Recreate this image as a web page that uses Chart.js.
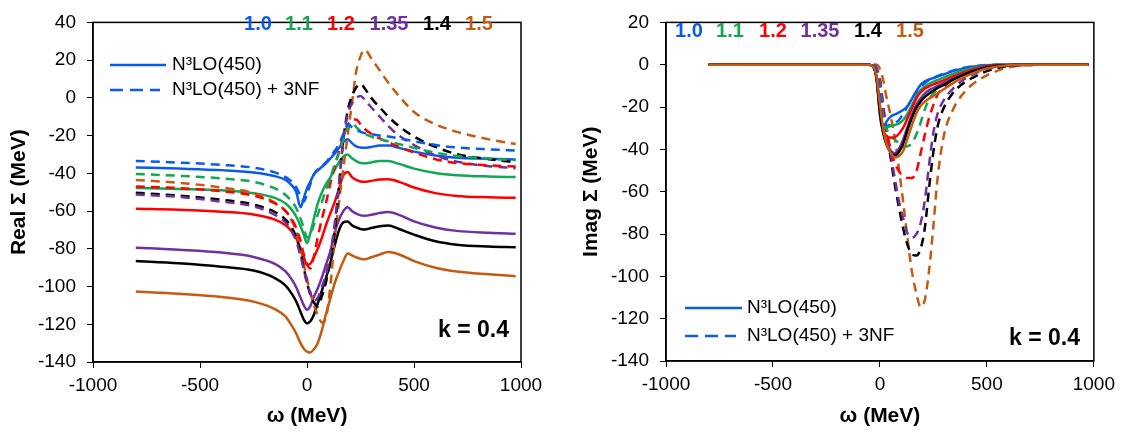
<!DOCTYPE html>
<html>
<head>
<meta charset="utf-8">
<script src="https://cdn.jsdelivr.net/npm/chart.js@4.4.0/dist/chart.umd.min.js"></script>
<style>
  body { margin: 0; background: #fff; }
  .panel { position: absolute; top: 0; }
  #leftPanel { left: 0; }
  #rightPanel { left: 560px; }
</style>
</head>
<body>
<div class="panel" id="leftPanel"><canvas id="realChart" width="560" height="435"></canvas></div>
<div class="panel" id="rightPanel"><canvas id="imagChart" width="561" height="435"></canvas></div>
<script>
// omega grid (MeV)
const omega = [-800, -600, -400, -250, -150, -100, -70, -50, -30, -15, 0, 15, 30, 50, 70, 90, 110, 130, 150, 170, 190, 210, 230, 250, 270, 300, 340, 380, 430, 500, 600, 700, 850, 975];

const kLabels = ['1.0', '1.1', '1.2', '1.35', '1.4', '1.5'];
const kColors = ['#0a5ce8', '#10a852', '#ff0000', '#7030a0', '#000000', '#c55a11'];
const legendLabels = ['N\u00b3LO(450)', 'N\u00b3LO(450) + 3NF'];

// Real part, N3LO(450)
const re10 = [-36.9, -37.5, -38.3, -39.5, -41.5, -43.5, -46.5, -50, -58, -53, -48, -44.5, -41, -38.5, -36.5, -34.5, -32, -29.5, -26.5, -23.5, -22, -24, -25.7, -26.3, -26.5, -26, -25.3, -25.3, -26.5, -28.5, -30.5, -31.7, -32.3, -32.7];
const re11 = [-47.8, -48.3, -49, -50.5, -53, -56, -59.5, -63, -68, -72.5, -77, -72, -65, -56, -50, -45.5, -42, -38, -34, -31, -30, -32, -33.5, -34.5, -34.7, -34.2, -33.5, -33.5, -35, -37.5, -39.8, -41, -41.7, -42];
const re12 = [-58.8, -59.3, -60.3, -61.8, -64.5, -67.5, -71, -74.5, -80, -84.5, -88.5, -88, -85, -80, -74, -67, -61, -55, -48, -41, -39.3, -42, -43.5, -44.3, -44.5, -44, -43.3, -43.2, -44.5, -47.5, -50.5, -52, -52.7, -53];
const re135 = [-79.4, -80.5, -82, -84.3, -88, -92, -96.5, -100.5, -106, -110, -112.3, -110.5, -106, -101, -95, -88, -81, -71, -64.5, -60, -58, -60, -61.4, -62.3, -62.5, -62, -61, -60.5, -62, -65.5, -68.7, -70.5, -71.5, -72];
const re14 = [-86.5, -87.7, -89.5, -91.5, -95.5, -99.5, -104, -108, -113.5, -117.5, -119.5, -118.5, -115.5, -109, -102, -95, -87, -78, -70, -66, -65.5, -67.5, -68.7, -69.5, -69.8, -69, -68, -67.6, -69.5, -72.5, -76, -77.8, -78.8, -79.2];
const re15 = [-102.6, -103.8, -105.5, -108, -112, -116, -121, -125, -130, -133, -134.5, -135, -133.5, -130, -123, -114, -106, -98, -92, -86.5, -82.5, -83.5, -84.5, -85.3, -85.6, -84.5, -83, -81.7, -83, -86.5, -90, -92, -93.5, -94.5];

// Real part, N3LO(450) + 3NF
const re10nf = [-33.5, -34.3, -35.5, -37, -39.5, -42, -44.5, -47.5, -52, -55, -51, -46, -41, -38, -36, -34, -31, -28, -24.5, -19, -14, -15.5, -17, -18, -18.7, -19.2, -20, -20.5, -21.5, -23, -25, -26.3, -27.3, -27.9];
const re11nf = [-40.3, -41.3, -42.7, -44.5, -48, -51.5, -55, -58.5, -64, -69, -74, -73, -68, -62, -55, -48.5, -42, -35, -29, -22, -16, -13, -15.5, -17.5, -19, -20.5, -22, -23, -24.5, -26.5, -29, -30.8, -32.2, -33];
const re12nf = [-47, -47.8, -49.5, -51.8, -56, -60, -64.5, -69, -76, -83, -88, -90.5, -85, -74, -64, -55, -45, -36.5, -28, -20.5, -15, -11.5, -11.5, -14, -16.5, -19, -21.5, -23.5, -26, -29, -32.5, -34.5, -35.8, -36.4];
const re135nf = [-51.2, -52.5, -55, -57.5, -62, -66, -71, -76, -84, -91, -98, -103, -107.5, -106, -100, -93, -82, -66, -45, -22, -9, -3, 0, 1, -1, -5, -10, -15, -20, -25, -30.5, -33.8, -36.2, -37.3];
const re14nf = [-50.3, -51.8, -54, -56.5, -60.5, -64.5, -69, -74, -82, -90, -98, -104, -108, -110.5, -105, -97, -86, -70, -46, -22, -7, 1, 5.5, 7.4, 5, 0, -5, -10, -15, -20.5, -26, -29.8, -32.5, -34.2];
const re15nf = [-43.5, -45, -47.5, -50.5, -55.5, -60, -65.5, -71, -80, -88, -96, -103, -109, -115, -119, -116, -99, -74, -55, -37, -20, -3, 14, 22, 25.5, 21, 14.5, 8, 1, -7.5, -14, -18, -22, -24.5];

// Imaginary part, N3LO(450)
const im10 = [0, 0, 0, 0, 0, 0, 0, 0, -1, -7, -24, -31, -27, -24.5, -23.5, -22.5, -21.3, -19.5, -16, -12.5, -9.5, -7.8, -7, -6.3, -5.6, -4.5, -3, -2, -0.9, -0.2, 0, 0, 0, 0];
const im11 = [0, 0, 0, 0, 0, 0, 0, 0, -1, -7, -22, -29.5, -29.5, -29, -28.5, -27.7, -26, -23, -19, -15, -12, -10.2, -9, -8, -7.2, -6, -4.3, -3, -1.7, -0.5, 0, 0, 0, 0];
const im12 = [0, 0, 0, 0, 0, 0, 0, 0, -1, -7, -23, -31, -33.5, -34.5, -34.2, -32.5, -29.5, -25, -20.5, -16, -13, -11.3, -10.2, -9.3, -8.5, -7.3, -5.5, -4, -2.3, -0.6, -0.1, 0, 0, 0];
const im135 = [0, 0, 0, 0, 0, 0, 0, 0, -1, -7, -22, -32, -37, -40.5, -41.8, -39.5, -35, -29, -23.5, -19, -16, -13.5, -12, -11, -10, -8.5, -6.5, -4.8, -3, -1, -0.1, 0, 0, 0];
const im14 = [0, 0, 0, 0, 0, 0, 0, 0, -1, -7, -22, -32, -37.5, -41.5, -42.8, -41, -37, -30.5, -25, -20.5, -17.5, -15.2, -13.6, -12.3, -11, -9.5, -7.2, -5.3, -3.3, -1.2, -0.2, 0, 0, 0];
const im15 = [0, 0, 0, 0, 0, 0, 0, 0, -1, -6, -19, -30, -37, -41.5, -43.8, -43, -40.5, -34.5, -28.5, -23, -19.5, -17.5, -16, -14.8, -13.5, -11.5, -8.8, -6.5, -4.2, -1.8, -0.3, 0, 0, 0];

// Imaginary part, N3LO(450) + 3NF
const im10nf = [0, 0, 0, 0, 0, 0, 0, 0, 0, -3, -12, -28, -29, -28.3, -27.5, -26, -23, -19.5, -16, -13, -10.5, -8.7, -7.3, -6.3, -5.3, -4.2, -2.8, -1.7, -0.8, -0.1, 0, 0, 0, 0];
const im11nf = [0, 0, 0, 0, 0, 0, 0, 0, 0, -3, -10, -26, -30, -33.5, -35.5, -37, -38.8, -38.5, -37, -33, -27.5, -21, -16.5, -13.5, -11.3, -9, -6.3, -4.3, -2.3, -0.5, 0, 0, 0, 0];
const im12nf = [0, 0, 0, 0, 0, 0, 0, 0, 0, -2, -8, -23, -31, -40, -46.5, -50.5, -52.6, -53.5, -53.5, -50.5, -42, -33, -25, -19, -14, -10.5, -7, -5, -3, -1.1, -0.2, 0, 0, 0];
const im135nf = [0, 0, 0, 0, 0, 0, 0, 0, 0, -2, -7, -19, -30, -42, -54, -65, -73, -80, -81.7, -80, -75, -64, -47, -32, -23, -16.5, -11.5, -7.8, -4.8, -2, -0.3, 0, 0, 0];
const im14nf = [0, 0, 0, 0, 0, 0, 0, 0, 0, -2, -7, -20, -31, -44, -57, -68, -78, -85.5, -89.5, -90.2, -87, -77, -58, -41, -29, -20, -13.5, -9.5, -6.3, -3, -0.6, -0.1, 0, 0];
const im15nf = [0, 0, 0, 0, 0, 0, 0, 0, 0, 0, -2, -7, -15, -24, -35, -50, -66, -83, -98, -108, -114.5, -111, -97, -76, -53, -33, -21.5, -14.8, -9.5, -5, -1.3, -0.1, 0, 0];

const FONT = '"Liberation Sans", Arial, sans-serif';
const DASH = [9, 6];

// solidOnTop: solid curves drawn over the dashed ones, 1.5 uppermost
function makeSets(solid, dashed, solidOnTop) {
  const sets = [];
  dashed.forEach((arr, i) => {
    sets.push({
      label: legendLabels[1] + ' ' + kLabels[i],
      data: omega.map((x, j) => ({ x: x, y: arr[j] })),
      borderColor: kColors[i], borderWidth: 2.5, borderDash: DASH,
      pointRadius: 0, cubicInterpolationMode: 'monotone', fill: false,
      order: solidOnTop ? 6 + i : i
    });
  });
  solid.forEach((arr, i) => {
    sets.push({
      label: legendLabels[0] + ' ' + kLabels[i],
      data: omega.map((x, j) => ({ x: x, y: arr[j] })),
      borderColor: kColors[i], borderWidth: 2.5,
      pointRadius: 0, cubicInterpolationMode: 'monotone', fill: false,
      order: solidOnTop ? 5 - i : 6 + i
    });
  });
  return sets;
}

// frame, k labels, legend and k = 0.4 note
const panelText = {
  id: 'panelText',
  afterDraw(chart, args, opts) {
    const ctx = chart.ctx, a = chart.chartArea;
    ctx.save();
    ctx.strokeStyle = '#000';
    ctx.lineWidth = 1.5;
    ctx.strokeRect(a.left, a.top, a.right - a.left, a.bottom - a.top);

    ctx.textBaseline = 'middle';
    ctx.textAlign = 'center';
    ctx.font = 'bold 20px ' + FONT;
    opts.kx.forEach((x, i) => {
      ctx.fillStyle = kColors[i];
      ctx.fillText(kLabels[i], x, opts.ky);
    });

    // legend
    ctx.strokeStyle = kColors[0];
    ctx.lineWidth = 2.5;
    ctx.beginPath();
    ctx.moveTo(opts.lx0, opts.ly[0]); ctx.lineTo(opts.lx1, opts.ly[0]);
    ctx.stroke();
    ctx.setLineDash([13, 7]);
    ctx.beginPath();
    ctx.moveTo(opts.lx0, opts.ly[1]); ctx.lineTo(opts.lx1 - 6, opts.ly[1]);
    ctx.stroke();
    ctx.setLineDash([]);
    ctx.fillStyle = '#000';
    ctx.textAlign = 'left';
    ctx.font = '19px ' + FONT;
    ctx.fillText(legendLabels[0], opts.tx, opts.ly[0]);
    ctx.fillText(legendLabels[1], opts.tx, opts.ly[1]);

    ctx.font = 'bold 23px ' + FONT;
    ctx.textAlign = 'right';
    ctx.fillText('k = 0.4', opts.kNoteX, opts.kNoteY);
    ctx.restore();
  }
};

function makeOptions(yMin, yMax, yTitle, pad, yWidth, xHeight, yTitlePad, textOpts) {
  return {
    responsive: false,
    animation: false,
    devicePixelRatio: 1,
    layout: { padding: pad },
    plugins: {
      legend: { display: false },
      tooltip: { enabled: false },
      panelText: textOpts
    },
    scales: {
      x: {
        type: 'linear', min: -1000, max: 1000,
        afterFit: s => { s.height = xHeight; },
        ticks: { stepSize: 500, padding: 6, color: '#000', font: { family: FONT, size: 19 }, callback: v => String(v) },
        grid: { drawOnChartArea: false, drawTicks: true, tickLength: 6, color: '#000' },
        border: { color: '#000', width: 1.5 },
        title: { display: true, text: '\u03c9 (MeV)', color: '#000', padding: { top: 0, bottom: 6 }, font: { family: FONT, size: 21, weight: 'bold' } }
      },
      y: {
        min: yMin, max: yMax,
        afterFit: s => { s.width = yWidth; },
        ticks: { stepSize: 20, padding: 11, color: '#000', font: { family: FONT, size: 19 }, callback: v => String(v) },
        grid: { drawOnChartArea: false, drawTicks: true, tickLength: 6, color: '#000' },
        border: { color: '#000', width: 1.5 },
        title: { display: true, text: yTitle, color: '#000', padding: { top: yTitlePad, bottom: 0 }, font: { family: FONT, size: 21, weight: 'bold' } }
      }
    }
  };
}

new Chart(document.getElementById('realChart').getContext('2d'), {
  type: 'line',
  data: { datasets: makeSets([re10, re11, re12, re135, re14, re15], [re10nf, re11nf, re12nf, re135nf, re14nf, re15nf], false) },
  options: makeOptions(-140, 40, 'Real \u03a3 (MeV)', { left: 0, right: 39, top: 9, bottom: 0 }, 93, 73, 7, {
    kx: [258, 299, 341, 389, 437, 479], ky: 24,
    lx0: 110, lx1: 166, ly: [65, 90], tx: 172,
    kNoteX: 509, kNoteY: 331
  }),
  plugins: [panelText]
});

new Chart(document.getElementById('imagChart').getContext('2d'), {
  type: 'line',
  data: { datasets: makeSets([im10, im11, im12, im135, im14, im15], [im10nf, im11nf, im12nf, im135nf, im14nf, im15nf], true) },
  options: makeOptions(-140, 20, 'Imag \u03a3 (MeV)', { left: 16, right: 26, top: 12, bottom: 0 }, 90, 74, 3, {
    kx: [129, 170, 213, 260, 308, 350], ky: 31,
    lx0: 125, lx1: 182, ly: [308, 336], tx: 187,
    kNoteX: 520, kNoteY: 339
  }),
  plugins: [panelText]
});
</script>
</body>
</html>
